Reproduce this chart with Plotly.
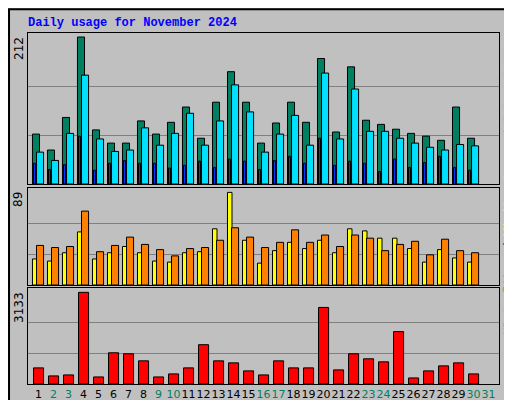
import plotly.graph_objects as go
from plotly.subplots import make_subplots

days = list(range(1, 31))
hits = [72, 49, 96, 212, 78, 59, 59, 91, 72, 89, 111, 66, 118, 162, 118, 59, 88, 118, 89, 181,
        75, 169, 92, 86, 79, 73, 69, 63, 111, 66]
files = [46, 34, 73, 157, 65, 47, 49, 81, 56, 73, 102, 56, 91, 143, 104, 46, 72, 99, 56, 160,
         65, 137, 76, 76, 66, 59, 53, 49, 57, 55]
pages = [30, 21, 28, 69, 20, 30, 34, 30, 30, 23, 27, 33, 24, 36, 33, 21, 34, 40, 30, 66,
         27, 33, 30, 18, 36, 24, 31, 40, 24, 20]
visits = [25, 23, 31, 51, 25, 31, 37, 31, 23, 22, 31, 32, 54, 89, 43, 21, 33, 41, 35, 43,
          31, 54, 52, 45, 45, 35, 22, 34, 26, 22]
sites = [38, 36, 37, 71, 32, 38, 46, 39, 34, 28, 35, 36, 43, 55, 46, 36, 41, 53, 41, 48,
         37, 48, 45, 33, 39, 42, 29, 44, 33, 31]
kbytes = [551, 276, 310, 3133, 241, 1067, 1033, 792, 241, 345, 551, 1343, 792, 723, 448, 310,
          792, 551, 551, 2617, 482, 1033, 861, 758, 1791, 207, 448, 620, 723, 345]
tick_days = list(range(1, 32))
weekend = {2, 3, 9, 10, 16, 17, 23, 24, 30, 31}

fig = make_subplots(rows=3, cols=1)
line = dict(color="black", width=1)


def bar(y, color, off, w, row):
    fig.add_trace(go.Bar(x=days, y=y, marker=dict(color=color, line=line),
                         offset=off, width=w, showlegend=False), row=row, col=1)


bar(hits, "#008060", -0.4, 0.47, 1)
bar(files, "#00e0ff", -0.13, 0.47, 1)
bar(pages, "#0040ff", -0.33, 0.13, 1)
bar(visits, "#ffff00", -0.4, 0.3, 2)
bar(sites, "#ff8000", -0.13, 0.47, 2)
bar(kbytes, "#ff0000", -0.33, 0.67, 3)

tops = [212, 89, 3133]
ranges = [217.8, 93.2, 3281]
domains = [[0.56, 0.9375], [0.3075, 0.55], [0.06, 0.30]]
for i in range(3):
    fig.update_yaxes(row=i + 1, col=1, domain=domains[i], range=[0, ranges[i]],
                     tickvals=[tops[i] / 3, 2 * tops[i] / 3], showticklabels=False,
                     gridcolor="#808080", gridwidth=1, zeroline=False,
                     showline=True, linecolor="black", mirror=True, ticks="")
    fig.update_xaxes(row=i + 1, col=1, domain=[0.039, 0.959], range=[0.3, 31.7],
                     showgrid=False, showline=True, linecolor="black", mirror=True,
                     tickvals=tick_days, showticklabels=(i == 2), zeroline=False)

fig.update_xaxes(row=3, col=1, tickangle=0, automargin=False,
                 ticktext=[f"<span style='color:{'#008060' if d in weekend else 'black'}'>{d}</span>"
                           for d in tick_days],
                 tickfont=dict(family="DejaVu Sans", size=11))

ann = [
    dict(x=0.035, y=1 - 24 / 400, text="<b>Daily usage for November 2024</b>", xanchor="left",
         yanchor="bottom", font=dict(family="Liberation Mono", size=12, color="#0000ff"),
         showarrow=False),
]
for i, t in enumerate(tops):
    ann.append(dict(x=0.038, y=domains[i][1] - 0.005, text=str(t), textangle=-90, xanchor="right",
                    yanchor="top", showarrow=False,
                    font=dict(family="DejaVu Sans", size=12, color="black")))
side = [
    "<span style='color:#00e0ff'>Pages</span> / <span style='color:#0040ff'>Files</span> / "
    "<span style='color:#008060'>Hits</span>",
    "<span style='color:#ff8000'>Sites</span> / <span style='color:#ffff00'>Visits</span>",
    "<span style='color:#ff0000'>KBytes</span>",
]
for i, s in enumerate(side):
    ann.append(dict(x=0.962, y=domains[i][1] - 0.005, text=s, textangle=-90, xanchor="left",
                    yanchor="top", showarrow=False,
                    font=dict(family="Liberation Mono", size=12, color="black")))
for a in ann:
    a["xref"] = "paper"
    a["yref"] = "paper"

fig.update_layout(
    width=512, height=400, margin=dict(l=0, r=0, t=0, b=0),
    paper_bgcolor="#c0c0c0", plot_bgcolor="#c0c0c0", barmode="overlay",
    annotations=ann,
    shapes=[dict(type="rect", xref="paper", yref="paper", x0=0.002, y0=0.003, x1=0.997, y1=0.997,
                 line=dict(color="black", width=2))],
)
fig.write_html("out.html")
